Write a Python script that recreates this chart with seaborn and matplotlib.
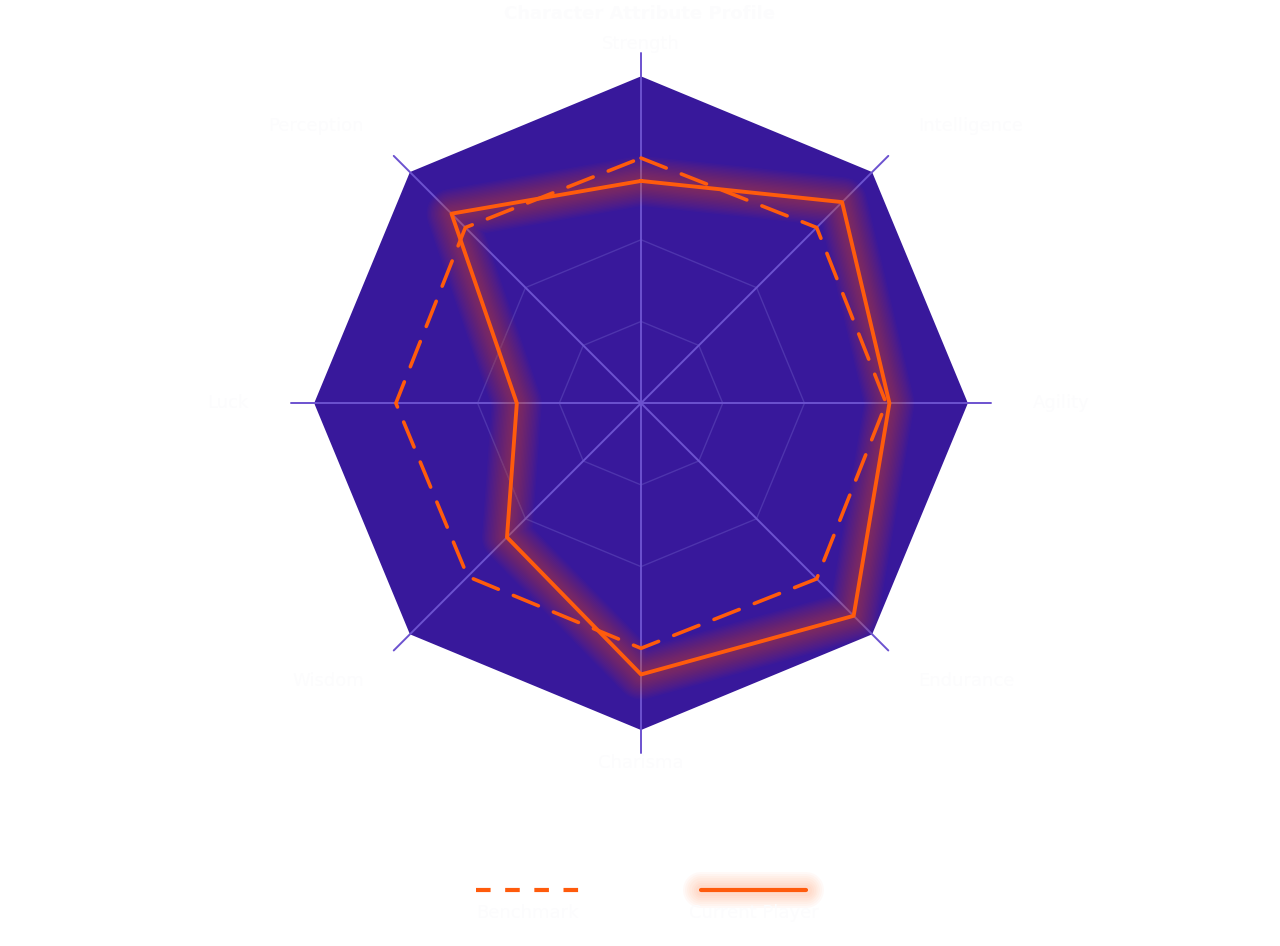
import numpy as np
import pandas as pd
import matplotlib
matplotlib.use("Agg")
import matplotlib.pyplot as plt
from matplotlib.lines import Line2D
import seaborn as sns

# axes go clockwise from the top
categories = ["Strength", "Intelligence", "Agility", "Endurance",
              "Charisma", "Wisdom", "Luck", "Perception"]
benchmark = [75, 76, 75, 76, 75, 75, 75, 76]
current = [68, 87, 76, 92, 83, 58, 38, 82]
ring_levels = [25, 50, 100]
series_names = ["Benchmark", "Current Player"]
title_text = "Character Attribute Profile"

fill_col = "#38189b"
spoke_col = "#6c52cf"
ring_col = "#4e34ad"
orange = "#ff5b0c"
ghost_txt = "#fcfcfd"

sns.set_theme(style="white")
plt.rcParams["font.family"] = ["DejaVu Sans"]

n = len(categories)
theta = np.linspace(0, 2 * np.pi, n, endpoint=False)
theta_c = np.append(theta, theta[0])

df = pd.DataFrame({
    "theta": np.concatenate([theta_c, theta_c]),
    "value": benchmark + benchmark[:1] + current + current[:1],
    "series": [series_names[0]] * (n + 1) + [series_names[1]] * (n + 1),
})

fig = plt.figure(figsize=(12.8, 9.46), dpi=100)
ax = fig.add_axes([0.2453, 0.2283, 0.511, 0.691], projection="polar")
ax.set_theta_zero_location("N")
ax.set_theta_direction(-1)
ax.set_ylim(0, 100)
ax.grid(False)
ax.set_xticks([])
ax.set_yticks([])
ax.spines["polar"].set_visible(False)
ax.patch.set_alpha(0)

# octagon background
ax.fill(theta_c, [ring_levels[-1]] * (n + 1), color=fill_col, zorder=1, lw=0)

# inner rings
for lv in ring_levels[:-1]:
    ax.plot(theta_c, [lv] * (n + 1), color=ring_col, lw=1.0, zorder=2)

# spokes reaching a bit past the edge
for t in theta:
    ax.plot([t, t], [0, 107], color=spoke_col, lw=1.4, zorder=2, clip_on=False)

# soft glow under the solid series (closed outlines, no caps)
cur = df[df.series == series_names[1]]
for w in np.arange(36, 4, -2):
    ax.fill(theta, current, fill=False, edgecolor=orange, lw=w, alpha=0.028,
            zorder=3, joinstyle="round")

sns.lineplot(data=df[df.series == series_names[0]], x="theta", y="value",
             sort=False, estimator=None, color=orange, lw=2.6, ax=ax, zorder=4,
             legend=False, linestyle=(0, (7.5, 4.5)), dash_capstyle="round")
sns.lineplot(data=cur, x="theta", y="value", sort=False, estimator=None,
             color=orange, lw=2.8, ax=ax, zorder=5, legend=False)
ax.set_xlabel("")
ax.set_ylabel("")
ax.set_ylim(0, 100)

# category labels (near-white, as in the source)
for t, lab in zip(theta, categories):
    ha = "center"
    if np.sin(t) > 0.1:
        ha = "left"
    elif np.sin(t) < -0.1:
        ha = "right"
    r = 110 if abs(np.sin(t)) < 0.1 else 120
    ax.text(t, r, lab, ha=ha, va="center", fontsize=13, color=ghost_txt,
            clip_on=False)

fig.text(0.5, 0.995, title_text, ha="center", va="top", fontsize=13,
         color=ghost_txt, fontweight="bold")

# legend: marker above label
for i, (xc, name) in enumerate(zip([0.4125, 0.589], series_names)):
    x0, x1 = xc - 0.041, xc + 0.041
    yy = 0.059
    if i == 0:
        fig.add_artist(Line2D([x0, x1], [yy, yy], color=orange, lw=3.0,
                              linestyle=(0, (3.5, 3.5)), transform=fig.transFigure))
    else:
        for w in np.arange(26, 6, -3):
            fig.add_artist(Line2D([x0, x1], [yy, yy], color=orange, lw=w,
                                  alpha=0.03, transform=fig.transFigure,
                                  solid_capstyle="round"))
        fig.add_artist(Line2D([x0, x1], [yy, yy], color=orange, lw=3.0,
                              transform=fig.transFigure))
    fig.text(xc, 0.035, name, ha="center", va="center", fontsize=13,
             color=ghost_txt)

fig.savefig("out.png", dpi=100, facecolor="white")
